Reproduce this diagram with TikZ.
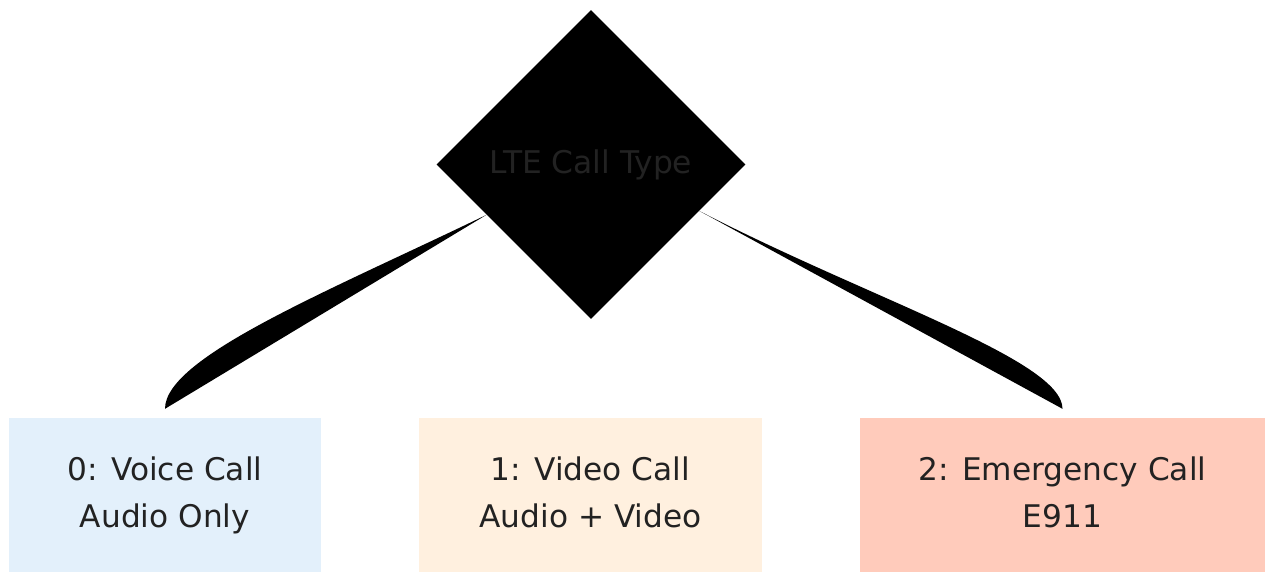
\documentclass[tikz,border=0pt]{standalone}
\usepackage{fontspec}
\setmainfont{DejaVu Sans}
\usetikzlibrary{shapes.geometric,calc}
\definecolor{txt}{HTML}{222222}
\definecolor{dtxt}{HTML}{222222}
\definecolor{bblue}{HTML}{E3F0FB}
\definecolor{bpeach}{HTML}{FFF0DF}
\definecolor{bsalmon}{HTML}{FFCBBB}
\tikzset{
  decision/.style={diamond, fill=black, draw=none, inner sep=0pt,
    minimum width=309pt, minimum height=309pt, text=dtxt,
    font=\fontsize{31.3}{36}\selectfont},
  leaf/.style={rectangle, draw=none, inner sep=0pt, minimum height=154pt,
    align=center, text=txt, font=\fontsize{31.2}{47}\selectfont},
  blob/.style={fill=black, draw=none}
}
\begin{document}
\begin{tikzpicture}[x=1pt,y=-1pt]
\useasboundingbox (0,0) rectangle (1265,574);
\node[decision] (d) at (591,164.5) {LTE Call Type};
\node[leaf, fill=bblue, minimum width=312pt] (b0) at (165,495) {0: Voice Call\\Audio Only\vphantom{y}};
\node[leaf, fill=bpeach, minimum width=343pt] (b1) at (590.5,495) {1: Video Call\\Audio + Video\vphantom{y}};
\node[leaf, fill=bsalmon, minimum width=405pt] (b2) at (1062.5,495) {2: Emergency Call\\E911\vphantom{y}};
\coordinate (s0) at ($(d.west)!0.325!(d.south)$);
\coordinate (s2) at ($(d.east)!0.30!(d.south)$);
\coordinate (e0) at ($(b0.north)+(0,-9)$);
\coordinate (e2) at ($(b2.north)+(0,-9)$);
\fill[blob] (s0) .. controls ($(s0)+(-157,76)$) and ($(e0)+(0,-52)$) .. (e0) -- cycle;
\fill[blob] (s2) .. controls ($(s2)+(170,88)$) and ($(e2)+(0,-49)$) .. (e2) -- cycle;
\end{tikzpicture}
\end{document}
